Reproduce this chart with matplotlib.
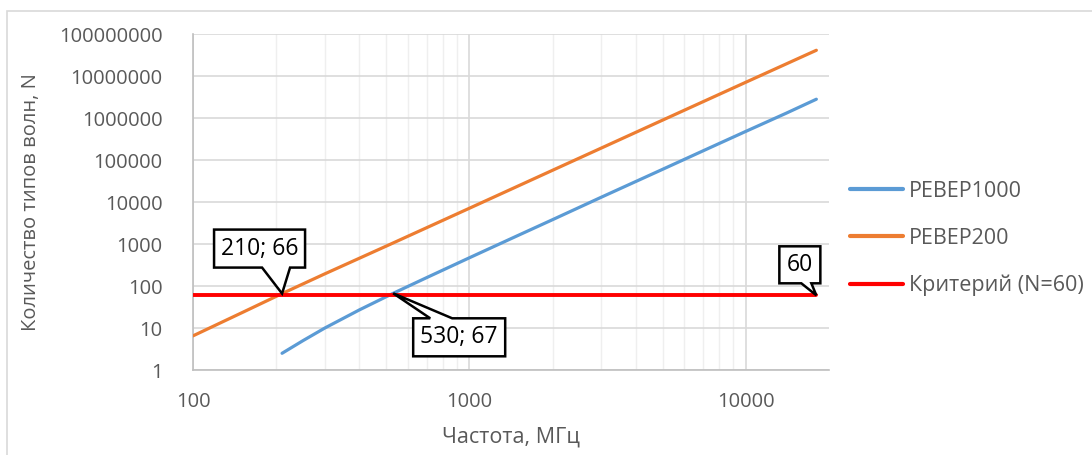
import numpy as np
import matplotlib.pyplot as plt
from matplotlib.patches import Rectangle, Polygon

plt.rcParams['font.family'] = ['Open Sans', 'DejaVu Sans']

# данные
freq_1000 = [210, 250, 300, 400, 530, 700, 1000, 1500, 2000, 3000, 5000, 7000, 10000, 14000, 18000]
n_1000 = [2.5, 5, 10, 27, 67, 158, 470, 1600, 3800, 13000, 60000, 165000, 480000, 1300000, 2800000]

freq_200 = [100, 150, 210, 300, 500, 1000, 2000, 5000, 10000, 18000]
n_200 = [6.5, 23, 66, 195, 890, 7100, 57000, 890000, 7100000, 41000000]

freq_crit = [100, 18000]
n_crit = [60, 60]

y_ticks = [1, 10, 100, 1000, 10000, 100000, 1000000, 10000000, 100000000]
x_ticks = [100, 1000, 10000]

gray = '#595959'

fig = plt.figure(figsize=(10.92, 4.55), dpi=100)
fig.patches.append(Rectangle((7/1092, -0.1), 1.2, 1.1 - 11/455, transform=fig.transFigure,
                             fill=False, ec='#d9d9d9', lw=1.2))
ax = fig.add_axes([193/1092, 1-370/455, 636/1092, 336/455])

ax.plot(freq_1000, n_1000, color='#5B9BD5', lw=2.3, label='РЕВЕР1000', solid_capstyle='round', zorder=3)
ax.plot(freq_200, n_200, color='#ED7D31', lw=2.3, label='РЕВЕР200', solid_capstyle='round', zorder=3)
ax.plot(freq_crit, n_crit, color='#FF0000', lw=2.8, label='Критерий (N=60)', solid_capstyle='round', zorder=3)

ax.set_xscale('log')
ax.set_yscale('log')
ax.set_xlim(100, 20000)
ax.set_ylim(1, 100000000)
ax.set_yticks(y_ticks, [str(v) for v in y_ticks])
ax.set_xticks(x_ticks, [str(v) for v in x_ticks])
ax.set_xticks([m * d for d in [100, 1000, 10000] for m in range(2, 10) if m * d < 20000], minor=True)
ax.yaxis.set_minor_locator(plt.NullLocator())
ax.tick_params(axis='both', which='both', length=0, labelsize=14.5, colors=gray)
ax.tick_params(axis='y', pad=22)
ax.tick_params(axis='x', pad=16)
ax.grid(True, which='major', color='#d9d9d9', lw=1.2)
ax.grid(True, which='minor', axis='x', color='#efefef', lw=1.0)
for s in ['top', 'right']:
    ax.spines[s].set_visible(False)
for s in ['left', 'bottom']:
    ax.spines[s].set_color('#bfbfbf')
    ax.spines[s].set_linewidth(1.2)

ax.set_xlabel('Частота, МГц', fontsize=15.5, color=gray, labelpad=10)
ax.set_ylabel('Количество типов волн, N', fontsize=14.5, color=gray, labelpad=13)


# выноска: прямоугольник с хвостиком, размеры в пикселях относительно точки
def callout(text, xy, box, tail, side):
    px, py = ax.transData.transform(xy)
    x0, x1, y0, y1 = box  # y вверх
    t0, t1 = tail
    if side == 'bottom':
        pts = [(x0, y1), (x1, y1), (x1, y0), (t1, y0), (0, 0), (t0, y0), (x0, y0)]
    else:
        pts = [(x0, y1), (t0, y1), (0, 0), (t1, y1), (x1, y1), (x1, y0), (x0, y0)]
    pts = [(px + a, py + b) for a, b in pts]
    fig.patches.append(Polygon(pts, closed=True, fc='white', ec='black', lw=1.8,
                               transform=None, zorder=5))
    fig.text((px + (x0 + x1) / 2) / 1092, (py + (y0 + y1) / 2) / 455, text,
             ha='center', va='center', fontsize=16.5, color='black', zorder=6)

callout('210; 66', (210, 66), (-68, 23, 26, 64), (-20, 8), 'bottom')
callout('530; 67', (530, 67), (20, 112, -63, -25), (37, 59), 'top')
callout('60', (18000, 60), (-37, 4, 12, 49), (-15, -5), 'bottom')

leg = ax.legend(loc='upper left', bbox_to_anchor=(850/1092, 1-181/455), bbox_transform=fig.transFigure,
                frameon=False, fontsize=15.5, handlelength=2.45, handletextpad=0.3, labelspacing=1.2,
                borderaxespad=0, borderpad=0)
for t in leg.get_texts():
    t.set_color(gray)
for h in leg.get_lines():
    h.set_linewidth(3)

fig.savefig('out.png', dpi=100)
